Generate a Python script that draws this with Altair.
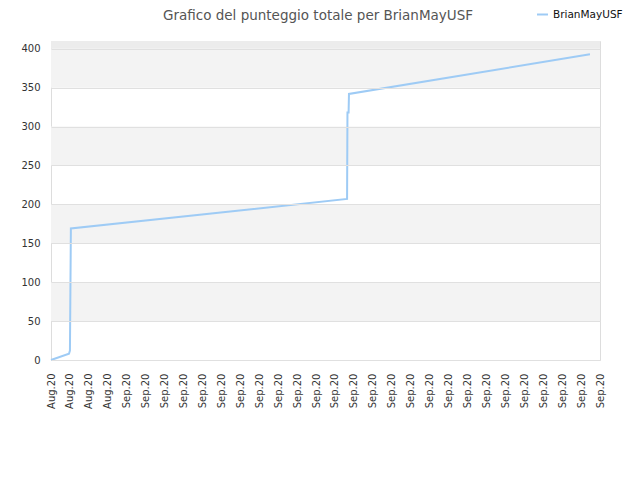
import altair as alt
import pandas as pd

# ---- data ----
x_labels = ["Aug.20"] * 4 + ["Sep.20"] * 26
y_ticks = [0, 50, 100, 150, 200, 250, 300, 350, 400]
pts_x = [0, 0.95, 1.0, 1.05, 15.64, 15.66, 15.72, 15.74, 28.47]
pts_y = [0, 8, 12, 169, 207, 318, 318, 342, 393]
series_name = "BrianMayUSF"
title_text = "Grafico del punteggio totale per BrianMayUSF"

band_lo = [50, 150, 250, 350, 400]
band_hi = [100, 200, 300, 400, 410]
band_col = ["#f3f3f3", "#f3f3f3", "#f3f3f3", "#f3f3f3", "#ececec"]

FONT = "DejaVu Sans"
LINE_COLOR = "#9ecbf5"

line_df = pd.DataFrame({"x": pts_x, "y": pts_y, "s": [series_name] * len(pts_x)})
band_df = pd.DataFrame({"lo": band_lo, "hi": band_hi, "c": band_col})
title_df = pd.DataFrame({"t": [title_text]})

label_expr = "[" + ",".join('"%s"' % l for l in x_labels) + "][datum.value]"

x_scale = alt.Scale(domain=[0, len(x_labels) - 1], nice=False, zero=False)
y_scale = alt.Scale(domain=[0, 410], nice=False)


def y_axis():
    return alt.Axis(
        values=y_ticks,
        ticks=False,
        domain=False,
        grid=True,
        gridColor="#e0e0e0",
        labelPadding=11,
        labelFont=FONT,
        labelFontSize=10,
        labelColor="#333333",
        labelOverlap=False,
        labelFlush=False,
        labelBound=False,
        zindex=1,
    )


bands = alt.Chart(band_df).mark_rect().encode(
    y=alt.Y("lo:Q", scale=y_scale, title=None, axis=y_axis()),
    y2="hi:Q",
    x=alt.value(0),
    x2=alt.value(549),
    color=alt.Color("c:N", scale=None),
)

line = alt.Chart(line_df).mark_line(strokeWidth=2, interpolate="linear").encode(
    x=alt.X(
        "x:Q",
        scale=x_scale,
        title=None,
        axis=alt.Axis(
            values=list(range(len(x_labels))),
            labelExpr=label_expr,
            labelAngle=270,
            labelAlign="right",
            labelBaseline="middle",
            labelPadding=13,
            ticks=False,
            grid=False,
            domain=False,
            labelFont=FONT,
            labelFontSize=10,
            labelColor="#333333",
            labelOverlap=False,
            labelFlush=False,
            labelBound=False,
        ),
    ),
    y=alt.Y("y:Q", scale=y_scale, title=None, axis=y_axis()),
    color=alt.Color(
        "s:N",
        scale=alt.Scale(domain=[series_name], range=[LINE_COLOR]),
        legend=alt.Legend(
            title=None,
            orient="none",
            legendX=485,
            legendY=-33,
            symbolType="stroke",
            symbolStrokeWidth=2,
            symbolSize=120,
            labelFont=FONT,
            labelFontSize=10.5,
            labelColor="#111111",
            labelLimit=200,
        ),
    ),
)

title = alt.Chart(title_df).mark_text(
    font=FONT,
    fontSize=13.5,
    color="#555555",
    align="center",
    baseline="alphabetic",
).encode(
    text="t:N",
    x=alt.value(267),
    y=alt.value(-21),
)

chart = (
    alt.layer(bands, line, title)
    .properties(
        width=549,
        height=319,
        autosize=alt.AutoSizeParams(type="none"),
        padding={"left": 43, "top": 33, "right": 32, "bottom": 104},
    )
    .configure_view(stroke="#dddddd", strokeWidth=1)
    .configure(background="white")
)

chart.save("out.html", embed_options={"renderer": "svg", "actions": False})
